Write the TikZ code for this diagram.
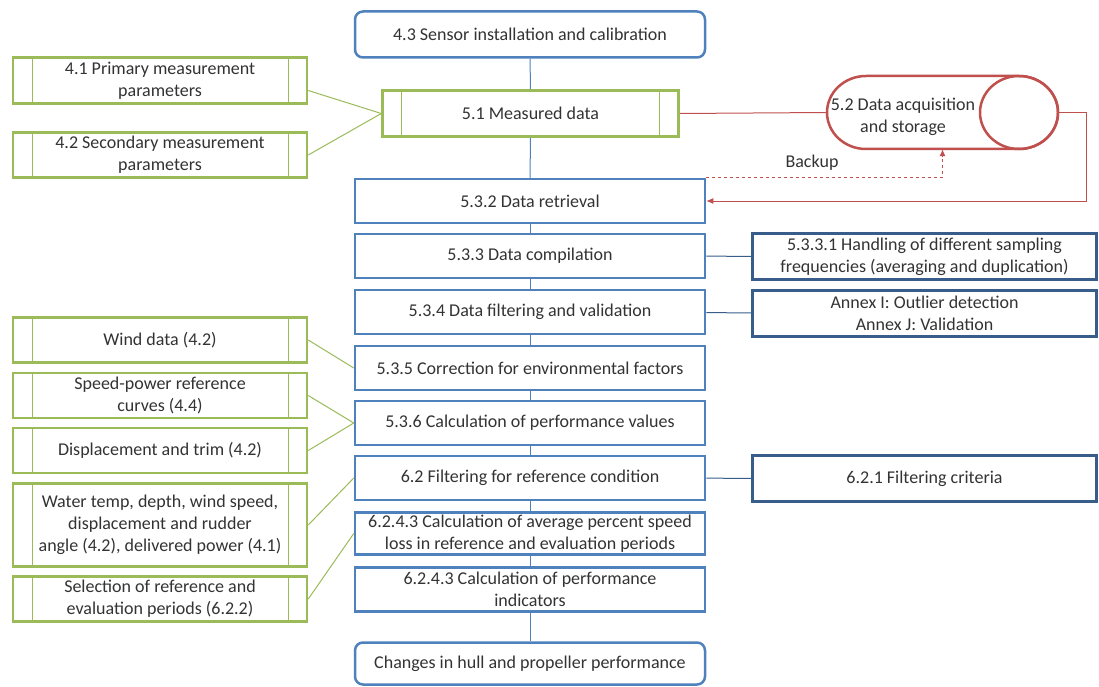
\documentclass[tikz,border=0pt]{standalone}
\usepackage{fontspec}
\setmainfont{Carlito}
\usetikzlibrary{arrows.meta}
\definecolor{boxblue}{HTML}{4F81BD}
\definecolor{darkblue}{HTML}{385D8A}
\definecolor{boxgreen}{HTML}{9BBB59}
\definecolor{boxred}{HTML}{C0504D}

\begin{document}
\begin{tikzpicture}[x=1pt, y=-1pt,
    every node/.style={font=\fontsize{18}{22}\selectfont, text=black!80, align=center, inner sep=0pt},
    stepbox/.style={draw=boxblue, line width=2.5pt, fill=white, minimum width=350pt, minimum height=44pt},
    endbox/.style={stepbox, rounded corners=8pt},
    inputbox/.style={draw=boxgreen, line width=2.5pt, fill=white, minimum width=294pt, minimum height=45pt,
        path picture={
            \draw [boxgreen, line width=1pt] ([xshift=19pt]path picture bounding box.north west) -- ([xshift=19pt]path picture bounding box.south west);
            \draw [boxgreen, line width=1pt] ([xshift=-19pt]path picture bounding box.north east) -- ([xshift=-19pt]path picture bounding box.south east);
        }},
    notebox/.style={draw=darkblue, line width=2.5pt, fill=white, minimum width=344pt, minimum height=45pt},
    link/.style={draw=boxblue, line width=1pt},
    sidelink/.style={draw=darkblue, line width=1pt},
    feed/.style={draw=boxgreen, line width=1pt},
    store/.style={draw=boxred, line width=1pt},
    ]
    \useasboundingbox (0, 0) rectangle (1099, 687);

    \node [endbox, minimum height=46pt] (sensor) at (530, 34.5) {4.3 Sensor installation and calibration};
    \node [inputbox, minimum width=296pt, minimum height=46pt] (measured) at (530.5, 113.5) {5.1 Measured data};
    \node [stepbox] (retrieval) at (530, 201) {5.3.2 Data retrieval};
    \node [stepbox] (compilation) at (530, 256) {5.3.3 Data compilation};
    \node [stepbox] (filtering) at (530, 312) {5.3.4 Data filtering and validation};
    \node [stepbox] (correction) at (530, 368) {5.3.5 Correction for environmental factors};
    \node [stepbox] (performance) at (530, 423) {5.3.6 Calculation of performance values};
    \node [stepbox] (refcond) at (530, 478) {6.2 Filtering for reference condition};
    \node [stepbox, minimum height=42pt] (speedloss) at (530, 533.5) {6.2.4.3 Calculation of average percent speed\\loss in reference and evaluation periods};
    \node [stepbox] (indicators) at (530, 589.5) {6.2.4.3 Calculation of performance\\indicators};
    \node [endbox, minimum height=42pt] (changes) at (530, 663.5) {Changes in hull and propeller performance};

    \node [inputbox, minimum height=46pt] (primary) at (160, 80.5) {4.1 Primary measurement\\parameters};
    \node [inputbox] (secondary) at (160, 155) {4.2 Secondary measurement\\parameters};
    \node [inputbox] (wind) at (160, 340) {Wind data (4.2)};
    \node [inputbox] (speedpower) at (160, 395.5) {Speed-power reference\\curves (4.4)};
    \node [inputbox] (displacement) at (160, 450.5) {Displacement and trim (4.2)};
    \node [inputbox, minimum height=83pt] (water) at (160, 525) {Water temp, depth, wind speed,\\displacement and rudder\\angle (4.2), delivered power (4.1)};
    \node [inputbox] (selection) at (160, 599) {Selection of reference and\\evaluation periods (6.2.2)};

    \node [notebox, minimum height=46pt] (sampling) at (924.5, 256.5) {5.3.3.1 Handling of different sampling\\frequencies (averaging and duplication)};
    \node [notebox, minimum height=46pt] (annex) at (924.5, 313.5) {Annex I: Outlier detection\\Annex J: Validation};
    \node [notebox, minimum height=46pt] (criteria) at (924.5, 478.5) {6.2.1 Filtering criteria};

    \node [minimum width=231pt, minimum height=73pt] (storage) at (942.5, 112.5) {};
    \draw [boxred, line width=2.5pt, fill=white] (1019, 76) -- (866, 76) arc [start angle=270, end angle=90, x radius=39, y radius=36.5] -- (1019, 149) arc [start angle=90, end angle=-90, x radius=39, y radius=36.5];
    \draw [boxred, line width=2.5pt] (1019, 112.5) ellipse [x radius=39, y radius=36.5];
    \node (storagetext) at (903, 117) {5.2 Data acquisition\\and storage};
    \node (backup) at (812, 163) {Backup};

    \foreach \a/\b in {sensor/measured, measured/retrieval, retrieval/compilation, compilation/filtering,
        filtering/correction, correction/performance, performance/refcond, refcond/speedloss,
        speedloss/indicators, indicators/changes}
        \draw [link] (\a) -- (\b);

    \draw [feed] ([yshift=-10pt]primary.east) -- (measured.west);
    \draw [feed] (secondary.east) -- (measured.west);
    \draw [feed] (wind.east) -- (correction.west);
    \draw [feed] (speedpower.east) -- (performance.west);
    \draw [feed] (displacement.east) -- (performance.west);
    \draw [feed] (water.east) -- (refcond.west);
    \draw [feed] (selection.east) -- (speedloss.west);

    \draw [sidelink] (compilation) -- (sampling);
    \draw [sidelink] (filtering) -- (annex);
    \draw [sidelink] (refcond) -- (criteria);

    \coordinate (turn) at (1086, 112.5);
    \draw [store] (measured.east) -- (storage.west);
    \draw [store, -{Latex[length=7pt, width=6pt]}] (storage.east) -- (turn) |- (retrieval.east);
    \draw [store, dashed, -{Latex[length=7pt, width=6pt]}] (retrieval.north east) -| (storage.south);
\end{tikzpicture}
\end{document}
